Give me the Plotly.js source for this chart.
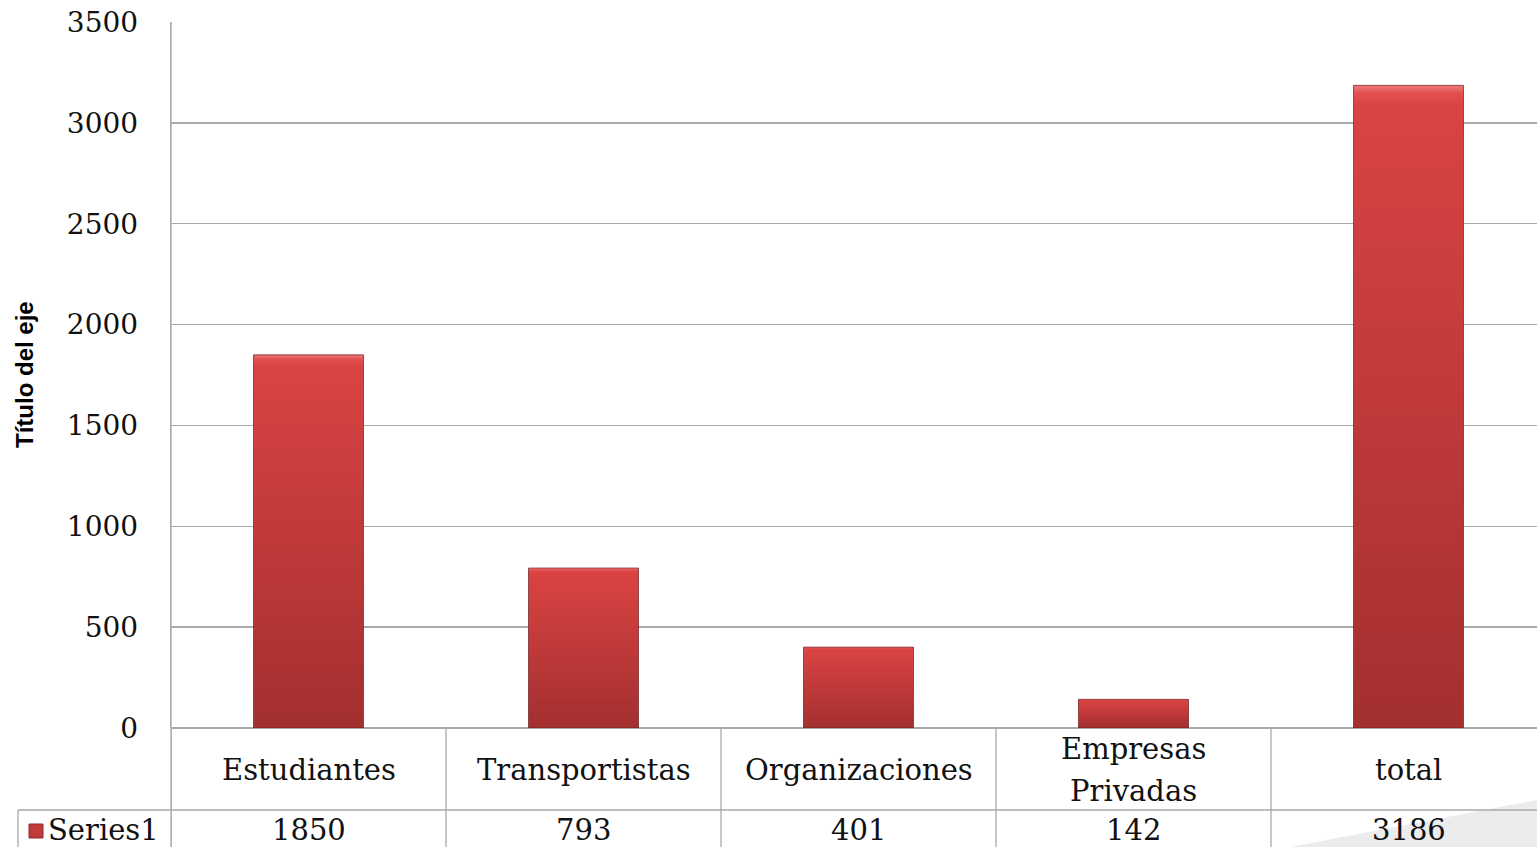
<!DOCTYPE html>
<html><head><meta charset="utf-8">
<script src="https://cdn.plot.ly/plotly-3.0.1.min.js"></script>
<style>html,body{margin:0;padding:0;background:#fff;}#chart{width:1537px;height:847px;}</style>
</head><body><div id="chart"></div>
<script>
const categories = ['Estudiantes', 'Transportistas', 'Organizaciones', 'Empresas Privadas', 'total'];
const categoryLabels = ['Estudiantes', 'Transportistas', 'Organizaciones', 'Empresas<br>Privadas', 'total'];
const seriesName = 'Series1';
const values = [1850, 793, 401, 142, 3186];
const yTicks = [0, 500, 1000, 1500, 2000, 2500, 3000, 3500];

const W = 1537, H = 847, mL = 171, mR = 0, mT = 22, mB = 119;
const pw = W - mL - mR, ph = H - mT - mB;
const px = v => (v - mL) / pw;          // pixel x -> paper x
const py = v => (H - mB - v) / ph;      // pixel y -> paper y

const serif = 'DejaVu Serif, Liberation Serif, serif';
const lineCol = '#a9a9a9';
const tableFont = {family:serif, size:29, color:'#111'};

const shapes = [];
// vertical category separators in the data table
for (let i = 0; i <= categories.length; i++) {
  shapes.push({type:'line', xref:'x', yref:'paper', x0:i-0.5, x1:i-0.5, y0:py(H), y1:0,
    line:{color:lineCol, width:1.3}});
}
// horizontal row separator
shapes.push({type:'line', xref:'paper', yref:'paper', x0:px(18), x1:1, y0:py(810), y1:py(810), line:{color:lineCol, width:1.3}});
// left border of series row
shapes.push({type:'line', xref:'paper', yref:'paper', x0:px(18), x1:px(18), y0:py(810), y1:py(H), line:{color:lineCol, width:1.3}});
// extend y axis line down through the table
shapes.push({type:'line', xref:'paper', yref:'paper', x0:0, x1:0, y0:py(H), y1:1, line:{color:lineCol, width:1.3}});
// legend key
shapes.push({type:'rect', xref:'paper', yref:'paper', x0:px(29), x1:px(43), y0:py(838), y1:py(824),
  fillcolor:'#c23a3a', line:{color:'#8e2a2a', width:1}});
// decorative grey corner
shapes.push({type:'path', xref:'paper', yref:'paper',
  path:`M ${px(1290)} ${py(H)} L ${px(1537)} ${py(800)} L ${px(1537)} ${py(H)} Z`,
  fillcolor:'rgba(200,200,200,0.35)', line:{width:0}, layer:'below'});

const annotations = [];
categories.forEach((c, i) => {
  const lines = categoryLabels[i].split('<br>');
  const gap = 42;
  lines.forEach((ln, k) => {
    const yc = 770 + (k - (lines.length - 1) / 2) * gap;
    annotations.push({xref:'x', yref:'paper', x:i, y:py(yc), text:ln, showarrow:false,
      xanchor:'center', yanchor:'middle', font:tableFont});
  });
  annotations.push({xref:'x', yref:'paper', x:i, y:py(830), text:String(values[i]), showarrow:false,
    xanchor:'center', yanchor:'middle', font:tableFont});
});
annotations.push({xref:'paper', yref:'paper', x:px(46), y:py(830), text:seriesName, showarrow:false,
  xanchor:'left', yanchor:'middle', font:tableFont});
annotations.push({xref:'paper', yref:'paper', x:px(24), y:0.5, text:'Título del eje', showarrow:false,
  textangle:-90, xanchor:'center', yanchor:'middle',
  font:{family:'Liberation Sans, Arial, sans-serif', size:24, color:'#000', weight:'bold'}});

const trace = {
  type:'bar', x:categories, y:values, name:seriesName, width:0.4,
  marker:{color:'#c63b3b', line:{color:'rgba(110,30,30,0.7)', width:1}},
  hoverinfo:'x+y'
};

const layout = {
  width:W, height:H, margin:{l:mL, r:mR, t:mT, b:mB, pad:0},
  paper_bgcolor:'#fff', plot_bgcolor:'#fff', showlegend:false,
  bargap:0.6,
  xaxis:{type:'category', range:[-0.5, -0.5 + pw/275], showticklabels:false, ticks:'',
    showgrid:false, zeroline:false, showline:false, fixedrange:true},
  yaxis:{range:[0, 3500], tickvals:yTicks, ticktext:yTicks.map(String), showgrid:true, gridcolor:lineCol, gridwidth:1.3,
    zeroline:true, zerolinecolor:lineCol, zerolinewidth:1.3,
    showline:true, linecolor:lineCol, linewidth:1.3, ticks:'', ticklabelstandoff:26,
    tickfont:{family:serif, size:28, color:'#111'}, fixedrange:true},
  shapes:shapes, annotations:annotations
};

Plotly.newPlot('chart', [trace], layout, {displayModeBar:false, staticPlot:true}).then(gd => {
  const svg = gd.querySelector('svg.main-svg');
  const ns = 'http://www.w3.org/2000/svg';
  let defs = svg.querySelector('defs');
  if (!defs) { defs = document.createElementNS(ns, 'defs'); svg.insertBefore(defs, svg.firstChild); }
  const g = document.createElementNS(ns, 'linearGradient');
  g.setAttribute('id', 'barGrad'); g.setAttribute('x1', '0'); g.setAttribute('y1', '0');
  g.setAttribute('x2', '0'); g.setAttribute('y2', '1');
  [['0', '#ee7a7a'], ['0.012', '#e35050'], ['0.03', '#da4343'], ['1', '#a32f2f']].forEach(([o, c]) => {
    const s = document.createElementNS(ns, 'stop'); s.setAttribute('offset', o); s.setAttribute('stop-color', c); g.appendChild(s);
  });
  defs.appendChild(g);
  gd.querySelectorAll('.bars .point path').forEach(p => { p.style.fill = 'url(#barGrad)'; });
});
</script></body></html>
